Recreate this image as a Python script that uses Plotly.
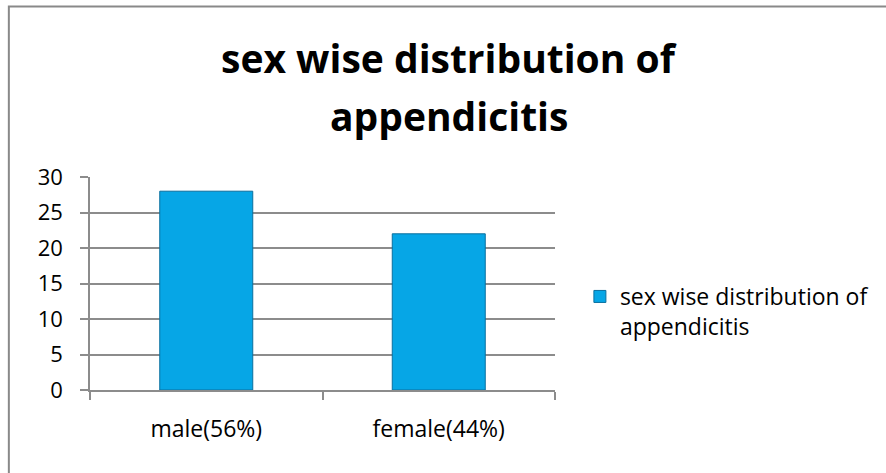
import plotly.graph_objects as go

categories = ["male(56%)", "female(44%)"]
values = [28, 22]
series_name = "sex wise distribution of<br>appendicitis"
title_lines = ["sex wise distribution of", "appendicitis"]
y_ticks = [0, 5, 10, 15, 20, 25, 30]

W, H = 886, 473
L, R, T, B = 90, 329, 177, 83
pw, ph = W - L - R, H - T - B

def px_x(x):
    return (x - L) / pw

def px_y(y):
    return (H - B - y) / ph

FONT = "Open Sans"
GRID = "#8c8c8c"

fig = go.Figure()
fig.add_trace(go.Bar(
    x=categories, y=values, name=series_name,
    marker=dict(color="#06a6e6", line=dict(color="#0a6f9e", width=1)),
    showlegend=True,
))

fig.update_layout(
    width=W, height=H,
    margin=dict(l=L, r=R, t=T, b=B),
    paper_bgcolor="white", plot_bgcolor="white",
    bargap=0.6,
    font=dict(family=FONT, size=22, color="black"),
    showlegend=True,
    legend=dict(x=px_x(582), y=px_y(275), xanchor="left", yanchor="top",
                valign="top", font=dict(size=23, family=FONT, color="black"),
                bgcolor="rgba(0,0,0,0)"),
    xaxis=dict(type="category", showline=True, linecolor=GRID, linewidth=1.5,
               ticks="outside", tickson="boundaries", ticklen=8, tickcolor=GRID,
               tickwidth=1.5, showgrid=False, ticklabelstandoff=18,
               tickfont=dict(size=23, family=FONT)),
    yaxis=dict(range=[0, 30], tickvals=y_ticks, showline=True, linecolor=GRID,
               linewidth=1.5, ticks="outside", ticklen=8, tickcolor=GRID,
               tickwidth=1.5, showgrid=True, gridcolor=GRID, gridwidth=1.5,
               zeroline=False, ticklabelstandoff=13,
               tickfont=dict(size=22, family=FONT)),
)

title_y = [px_y(57), px_y(115)]
for line, yy in zip(title_lines, title_y):
    fig.add_annotation(text="<b>" + line + "</b>", x=px_x(451), y=yy,
                       xref="paper", yref="paper", showarrow=False,
                       xanchor="center", yanchor="middle",
                       font=dict(size=39, family=FONT, color="black"))

fig.add_shape(type="rect", xref="paper", yref="paper",
              x0=px_x(8.5), x1=px_x(892), y0=px_y(480), y1=px_y(6.5),
              line=dict(color="#898989", width=2), fillcolor="rgba(0,0,0,0)",
              layer="below")

fig.write_html("out.html")
